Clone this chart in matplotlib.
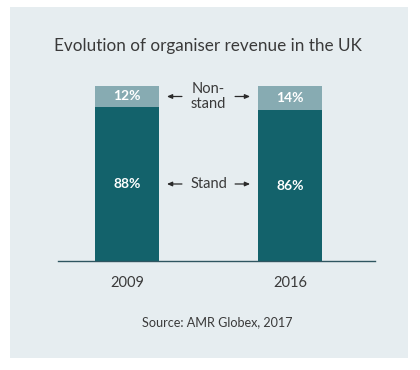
import matplotlib.pyplot as plt
from matplotlib.patches import Rectangle

# data
years = ['2009', '2016']
stand = [88, 86]
non_stand = [12, 14]

dark_teal = '#13626b'
light_teal = '#87abb2'
panel_bg = '#e6edf0'
text_col = '#3a3a3a'

plt.rcParams['font.family'] = ['Lato', 'DejaVu Sans']

fig = plt.figure(figsize=(4.2, 3.7), dpi=100)
fig.patch.set_facecolor('white')

# light panel behind everything
bg = fig.add_axes([0, 0, 1, 1], zorder=-1)
bg.axis('off')
bg.add_patch(Rectangle((0.024, 0.032), 0.947, 0.949, transform=bg.transAxes,
                       facecolor=panel_bg, edgecolor='none'))

ax = fig.add_axes([0.138, 0.2946, 0.755, 0.473])
ax.set_facecolor('none')

x = list(range(len(years)))
w = 0.393
ax.bar(x, stand, width=w, color=dark_teal)
ax.bar(x, non_stand, width=w, bottom=stand, color=light_teal)

for i in x:
    ax.text(i, stand[i] / 2, f'{stand[i]}%', ha='center', va='center',
            color='white', fontsize=10, fontweight='bold')
    ax.text(i, stand[i] + non_stand[i] / 2, f'{non_stand[i]}%', ha='center', va='center',
            color='white', fontsize=10, fontweight='bold')

# middle labels with arrows pointing at the bars
mid = 0.5
labels = [('Non-\nstand', stand[0] + non_stand[0] / 2), ('Stand', stand[0] / 2)]
arrow = dict(arrowstyle='-|>,head_length=0.3,head_width=0.13', color='#2a2a2a', lw=0.9,
             shrinkA=0, shrinkB=0)
for lbl, yy in labels:
    ax.text(mid, yy, lbl, ha='center', va='center', color=text_col, fontsize=10.5,
            linespacing=1.15)
    ax.annotate('', xy=(0.245, yy), xytext=(0.337, yy), arrowprops=arrow)
    ax.annotate('', xy=(0.755, yy), xytext=(0.663, yy), arrowprops=arrow)

ax.set_xlim(-0.423, 1.521)
ax.set_ylim(0, 100)
ax.set_xticks(x)
ax.set_xticklabels(years, fontsize=10.5, color=text_col)
ax.tick_params(axis='x', length=0, pad=11)
ax.set_yticks([])
for s in ['top', 'right', 'left']:
    ax.spines[s].set_visible(False)
ax.spines['bottom'].set_color('#2f5560')
ax.spines['bottom'].set_linewidth(1.0)

fig.text(0.495, 0.876, 'Evolution of organiser revenue in the UK', ha='center', va='center',
         fontsize=12.3, color=text_col)
fig.text(0.517, 0.130, 'Source: AMR Globex, 2017', ha='center', va='center',
         fontsize=9.1, color=text_col)

fig.savefig('out.png', dpi=100, facecolor=fig.get_facecolor())
